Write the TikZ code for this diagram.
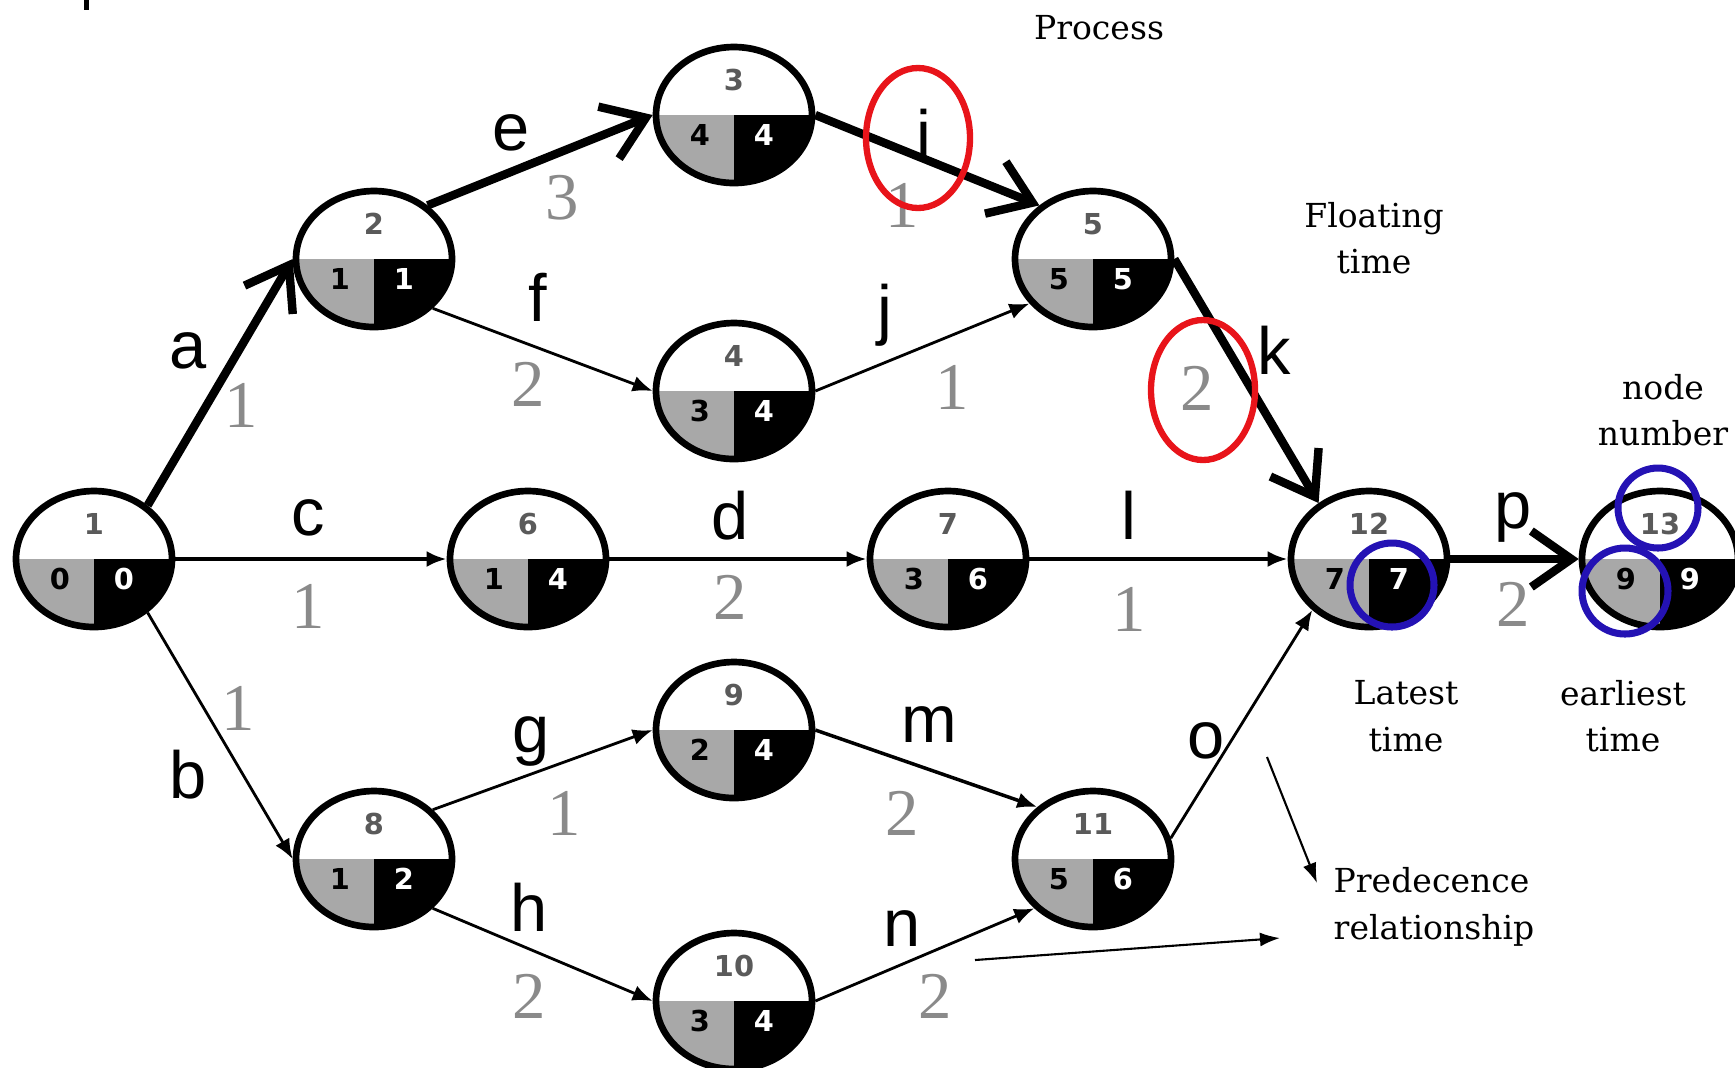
\documentclass[tikz,border=0pt]{standalone}
\usepackage{fontspec}
\setmainfont{DejaVu Serif}
\newfontfamily\lblfont{Liberation Sans}
\newfontfamily\wtfont{Liberation Serif}
\newfontfamily\numfont{DejaVu Sans}
\usepackage{tikz}
\usetikzlibrary{arrows.meta,shapes.geometric,positioning}

\definecolor{lategray}{HTML}{A8A8A8}
\definecolor{topgray}{HTML}{5A5A5A}
\definecolor{wtgray}{HTML}{8A8A8A}
\definecolor{ringblue}{HTML}{2412B4}
\definecolor{ringred}{HTML}{E8141A}

\tikzset{
  numtop/.style={font=\numfont\bfseries\fontsize{8.2}{9}\selectfont, text=topgray, inner sep=0pt},
  numlow/.style={font=\numfont\bfseries\fontsize{8.2}{9}\selectfont, inner sep=0pt},
  event/.style n args={3}{ellipse, draw, fill=white, line width=1.9pt,
    minimum width=1.56cm, minimum height=1.36cm, inner sep=0pt,
    path picture={
      \fill[lategray] (path picture bounding box.west) rectangle (path picture bounding box.south);
      \fill[black] (path picture bounding box.center) rectangle (path picture bounding box.south east);
      \node[numtop] at ([yshift=0.35cm]path picture bounding box.center) {#1};
      \node[numlow] at ([xshift=-0.34cm,yshift=-0.2cm]path picture bounding box.center) {#2};
      \node[numlow,text=white] at ([xshift=0.3cm,yshift=-0.2cm]path picture bounding box.center) {#3};
    }},
  crit/.style={line width=2.4pt, -{Straight Barb[length=4mm,width=5.6mm]}},
  act/.style={line width=0.8pt, -{Latex[length=2mm,width=1.6mm]}},
  lbl/.style={font=\lblfont\fontsize{19}{19}\selectfont, inner sep=0pt},
  wt/.style={font=\wtfont\fontsize{19}{19}\selectfont, text=wtgray, inner sep=0pt},
  note/.style={font=\fontsize{9.4}{13.2}\selectfont, align=center, inner sep=0pt},
  ring/.style={circle, draw=ringblue, line width=2pt, inner sep=0pt},
  redring/.style={ellipse, draw=ringred, line width=1.8pt, inner sep=0pt,
    minimum width=1.04cm, minimum height=1.4cm}
}

\begin{document}
\begin{tikzpicture}
\useasboundingbox (0,0) rectangle (17.35,-10.67);

\fill (0.84,0) rectangle (0.89,-0.1);

\node (v1) at (0.94,-5.59) [event={1}{0}{0}] {};
\node (v2) at (3.74,-2.59) [event={2}{1}{1}] {};
\node (v3) at (7.34,-1.15) [event={3}{4}{4}] {};
\node (v4) at (7.34,-3.91) [event={4}{3}{4}] {};
\node (v5) at (10.93,-2.59) [event={5}{5}{5}] {};
\node (v6) at (5.28,-5.59) [event={6}{1}{4}] {};
\node (v7) at (9.48,-5.59) [event={7}{3}{6}] {};
\node (v8) at (3.74,-8.59) [event={8}{1}{2}] {};
\node (v9) at (7.34,-7.30) [event={9}{2}{4}] {};
\node (v10) at (7.34,-10.01) [event={10}{3}{4}] {};
\node (v11) at (10.93,-8.59) [event={11}{5}{6}] {};
\node (v12) at (13.69,-5.59) [event={12}{7}{7}] {};
\node (v13) at (16.60,-5.59) [event={13}{9}{9}] {};

\draw[crit] (v1.45) -- (v2.west);
\draw[crit] (v2.45) -- (v3.west);
\draw[crit] (v3.east) -- (v5.135);
\draw[crit] (v5.east) -- (v12.132);
\draw[crit] (v12.east) -- (v13.west);

\draw[act] (v1.-45) -- (v8.west);
\draw[act,line width=1.2pt] (v1.east) -- (v6.west);
\draw[act,line width=1.2pt] (v6.east) -- (v7.west);
\draw[act,line width=1.2pt] (v7.east) -- (v12.west);
\draw[act] (v2.-40) -- (v4.west);
\draw[act] (v4.east) -- (v5.-145);
\draw[act] (v8.40) -- (v9.west);
\draw[act] (v8.-40) -- (v10.west);
\draw[act,line width=1pt] (v9.east) -- (v11.137);
\draw[act] (v10.east) -- (v11.-140);
\draw[act] (v11.15) -- (v12.-138);

\node[lbl] (la) at (1.88,-3.51) {a};
\node[wt] (wa) at (2.41,-4.05) {1};
\node[lbl] (lb) at (1.88,-7.75) {b};
\node[wt] (wb) at (2.38,-7.08) {1};
\node[lbl] (lc) at (3.08,-5.18) {c};
\node[wt] (wc) at (3.08,-6.06) {1};
\node[lbl] (ld) at (7.30,-5.16) {d};
\node[wt] (wd) at (7.30,-5.97) {2};
\node[lbl] (le) at (5.11,-1.33) {e};
\node[wt] (we) at (5.62,-1.98) {3};
\node[lbl] (lf) at (5.38,-2.97) {f};
\node[wt] (wf) at (5.28,-3.84) {2};
\node[lbl] (lg) at (5.31,-7.41) {g};
\node[wt] (wg) at (5.64,-8.13) {1};
\node[lbl] (lh) at (5.29,-9.07) {h};
\node[wt] (wh) at (5.29,-9.96) {2};
\node[lbl] (li) at (9.24,-1.33) {i};
\node[wt] (wi) at (9.02,-2.05) {1};
\node[lbl] (lj) at (8.85,-3.15) {j};
\node[wt] (wj) at (9.52,-3.87) {1};
\node[lbl] (lk) at (12.74,-3.50) {k};
\node[wt] (wk) at (11.97,-3.88) {2};
\node[lbl] (ll) at (11.29,-5.15) {l};
\node[wt] (wl) at (11.29,-6.09) {1};
\node[lbl] (lm) at (9.29,-7.25) {m};
\node[wt] (wm) at (9.02,-8.13) {2};
\node[lbl] (ln) at (9.02,-9.29) {n};
\node[wt] (wn) at (9.35,-9.96) {2};
\node[lbl] (lo) at (12.06,-7.41) {o};
\node[lbl] (lp) at (15.13,-5.17) {p};
\node[wt] (wp) at (15.13,-6.04) {2};

% highlight marks
\node[redring] (ri) at (9.18,-1.38) {};
\node[redring] (rk) at (12.03,-3.90) {};
\node[ring,minimum size=0.84cm] (bl) at (13.92,-5.85) {};
\node[ring,minimum size=0.80cm] (bn) at (16.58,-5.08) {};
\node[ring,minimum size=0.86cm] (be) at (16.25,-5.91) {};

\node[note] (proc) at (10.99,-0.28) {Process};
\node[note] (flt) at (13.74,-2.38) {Floating\\time};
\node[note] (nnum) at (16.63,-4.10) {node\\number};
\node[note] (lat) at (14.06,-7.16) {Latest\\time};
\node[note] (ear) at (16.23,-7.16) {earliest\\time};
\node[note,align=left,anchor=west] (prec) at (13.33,-9.07) {Predecence\\relationship};

\coordinate (s1) at (12.67,-7.57);
\coordinate (t1) at (13.17,-8.83);
\coordinate (s2) at (9.75,-9.60);
\coordinate (t2) at (12.80,-9.38);
\draw[line width=0.6pt,-{Latex[length=2mm,width=1.4mm]}] (s1) -- (t1);
\draw[line width=0.6pt,-{Latex[length=2mm,width=1.4mm]}] (s2) -- (t2);
\end{tikzpicture}
\end{document}
